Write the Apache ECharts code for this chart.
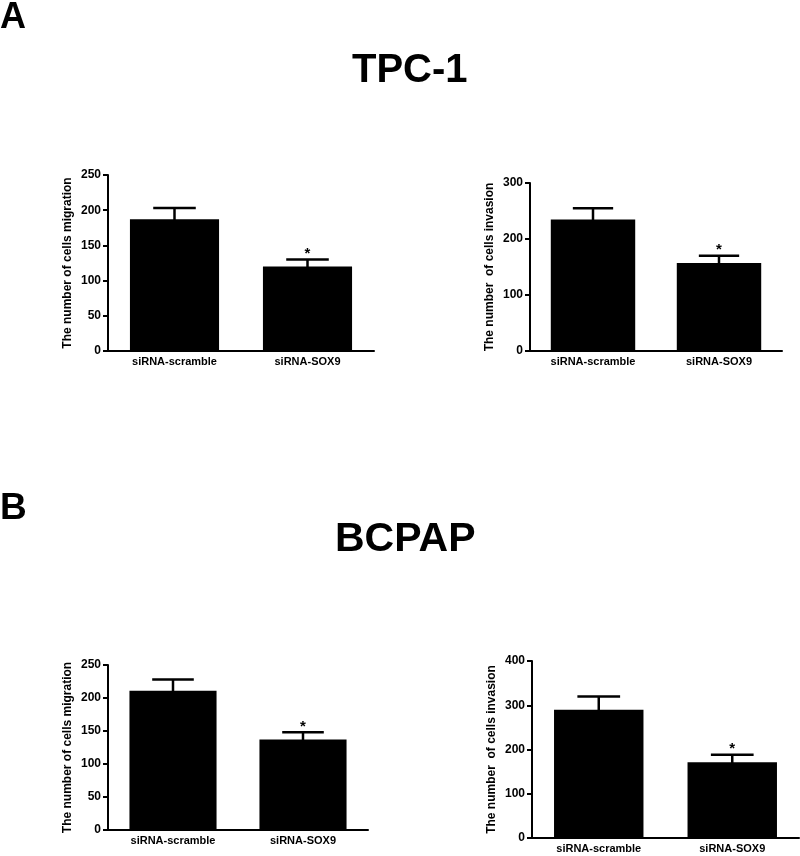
<!DOCTYPE html>
<html>
<head>
<meta charset="utf-8">
<script src="https://cdn.jsdelivr.net/npm/echarts@6/dist/echarts.min.js"></script>
<style>
  html, body { margin: 0; padding: 0; background: #fff; }
  #main { width: 800px; height: 856px; }
</style>
</head>
<body>
<div id="main"></div>
<script>
var categories = ['siRNA-scramble', 'siRNA-SOX9'];

// TPC-1
var tpcMigration = [187, 120];
var tpcMigrationSem = [16, 10];
var tpcInvasion = [235, 157];
var tpcInvasionSem = [20, 13];

// BCPAP
var bcpapMigration = [211, 137];
var bcpapMigrationSem = [17, 11];
var bcpapInvasion = [290, 171];
var bcpapInvasionSem = [30, 17];

var significant = [0, 1];

var yMax = [250, 300, 250, 400];
var yStep = [50, 100, 50, 100];
var yNames = ['The number of cells migration', 'The number  of cells invasion',
              'The number of cells migration', 'The number  of cells invasion'];

var FONT = '"Liberation Sans", Arial, sans-serif';

var chart = echarts.init(document.getElementById('main'));

var grids = [
    {left: 108, top: 175, width: 266, height: 176},
    {left: 530, top: 183, width: 252, height: 168},
    {left: 108, top: 665, width: 260, height: 165},
    {left: 532, top: 661, width: 267, height: 177}
];

function errItem(params, api) {
    var x = api.value(0);
    var top = api.coord([x, api.value(1)]);
    var cap = api.coord([x, api.value(2)]);
    var half = api.size([1, 0])[0] * 0.16;
    var style = {stroke: '#000', lineWidth: 2.5};
    var kids = [
        {type: 'line', shape: {x1: top[0], y1: top[1] + 2, x2: cap[0], y2: cap[1]}, style: style},
        {type: 'line', shape: {x1: cap[0] - half, y1: cap[1], x2: cap[0] + half, y2: cap[1]}, style: style}
    ];
    if (api.value(3)) {
        kids.push({type: 'text', style: {x: cap[0], y: cap[1] + 2, text: '*', fill: '#000',
            font: 'bold 15px ' + FONT, align: 'center', verticalAlign: 'bottom'}});
    }
    return {type: 'group', children: kids};
}

function errData(mean, sem) {
    var out = [];
    for (var i = 0; i < mean.length; i++) {
        out.push([i, mean[i], mean[i] + sem[i], significant[i]]);
    }
    return out;
}

var means = [tpcMigration, tpcInvasion, bcpapMigration, bcpapInvasion];
var sems = [tpcMigrationSem, tpcInvasionSem, bcpapMigrationSem, bcpapInvasionSem];

var xAxes = [], yAxes = [], series = [];
for (var k = 0; k < 4; k++) {
    xAxes.push({
        type: 'category', gridIndex: k, data: categories,
        axisLine: {lineStyle: {color: '#000', width: 2}},
        axisTick: {alignWithLabel: true, length: 5, lineStyle: {width: 2, color: '#000'}},
        axisLabel: {color: '#000', fontWeight: 'bold', fontSize: 11, fontFamily: FONT, margin: 5}
    });
    yAxes.push({
        type: 'value', gridIndex: k, min: 0, max: yMax[k], interval: yStep[k],
        name: yNames[k], nameLocation: 'middle', nameGap: 34, nameRotate: 90,
        nameTextStyle: {color: '#000', fontWeight: 'bold', fontSize: 12, fontFamily: FONT},
        axisLine: {show: true, lineStyle: {color: '#000', width: 2}},
        axisTick: {show: true, length: 5, lineStyle: {width: 2, color: '#000'}},
        axisLabel: {color: '#000', fontWeight: 'bold', fontSize: 12, fontFamily: FONT, margin: 7},
        splitLine: {show: false}
    });
    series.push({
        type: 'bar', xAxisIndex: k, yAxisIndex: k, data: means[k],
        barWidth: '67%', itemStyle: {color: '#000'}, silent: true
    });
    series.push({
        type: 'custom', xAxisIndex: k, yAxisIndex: k, data: errData(means[k], sems[k]),
        renderItem: errItem, z: 1, silent: true
    });
}

chart.setOption({
    animation: false,
    backgroundColor: '#fff',
    title: [
        {text: 'A', left: 0, top: 0, padding: 0, textStyle: {fontSize: 36, fontWeight: 'bold', color: '#000', fontFamily: FONT}},
        {text: 'TPC-1', left: 352, top: 51, padding: 0, textStyle: {fontSize: 40, fontWeight: 'bold', color: '#000', fontFamily: FONT}},
        {text: 'B', left: 0, top: 490, padding: 0, textStyle: {fontSize: 37, fontWeight: 'bold', color: '#000', fontFamily: FONT}},
        {text: 'BCPAP', left: 335, top: 519, padding: 0, textStyle: {fontSize: 41, fontWeight: 'bold', color: '#000', fontFamily: FONT}}
    ],
    grid: grids,
    xAxis: xAxes,
    yAxis: yAxes,
    series: series
});
</script>
</body>
</html>
